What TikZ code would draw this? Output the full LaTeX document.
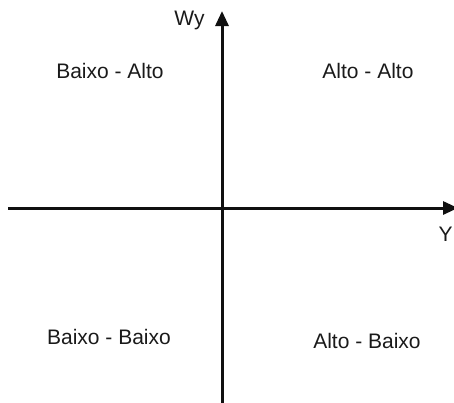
\documentclass[tikz,border=0pt]{standalone}
\usepackage{fontspec}
\setmainfont{Liberation Sans}
\usetikzlibrary{arrows.meta}
\definecolor{axisDark}{HTML}{101010}
\definecolor{textDark}{HTML}{1A1A1A}
\begin{document}
\begin{tikzpicture}[x=0.5pt,y=-0.5pt,
    axisline/.style={axisDark, line width=1.5pt, -{Triangle[length=7.5pt,width=6.5pt]}},
    quadlabel/.style={text=textDark, font=\fontsize{10.5}{12.6}\selectfont, inner sep=0pt}]

            \useasboundingbox (0,0) rectangle (454,402);

            % axes
            \coordinate (xLeft) at (8,208);
            \coordinate (xRight) at (458,208);
            \coordinate (yBottom) at (222,404);
            \coordinate (yTop) at (222,11);
            \draw[axisline] (xLeft) -- (xRight);
            \draw[axisline] (yBottom) -- (yTop);

            \node[quadlabel, anchor=base east] (wyLabel) at (205,25) {Wy};
            \node[quadlabel, anchor=base east] (yLabel) at (453,241) {Y};

            % quadrants
            \node[quadlabel] (baixoAlto) at (110,71) {Baixo - Alto};
            \node[quadlabel] (altoAlto) at (368,71) {Alto - Alto};
            \node[quadlabel] (baixoBaixo) at (109,337) {Baixo - Baixo};
            \node[quadlabel] (altoBaixo) at (367,341) {Alto - Baixo};

\end{tikzpicture}
\end{document}
